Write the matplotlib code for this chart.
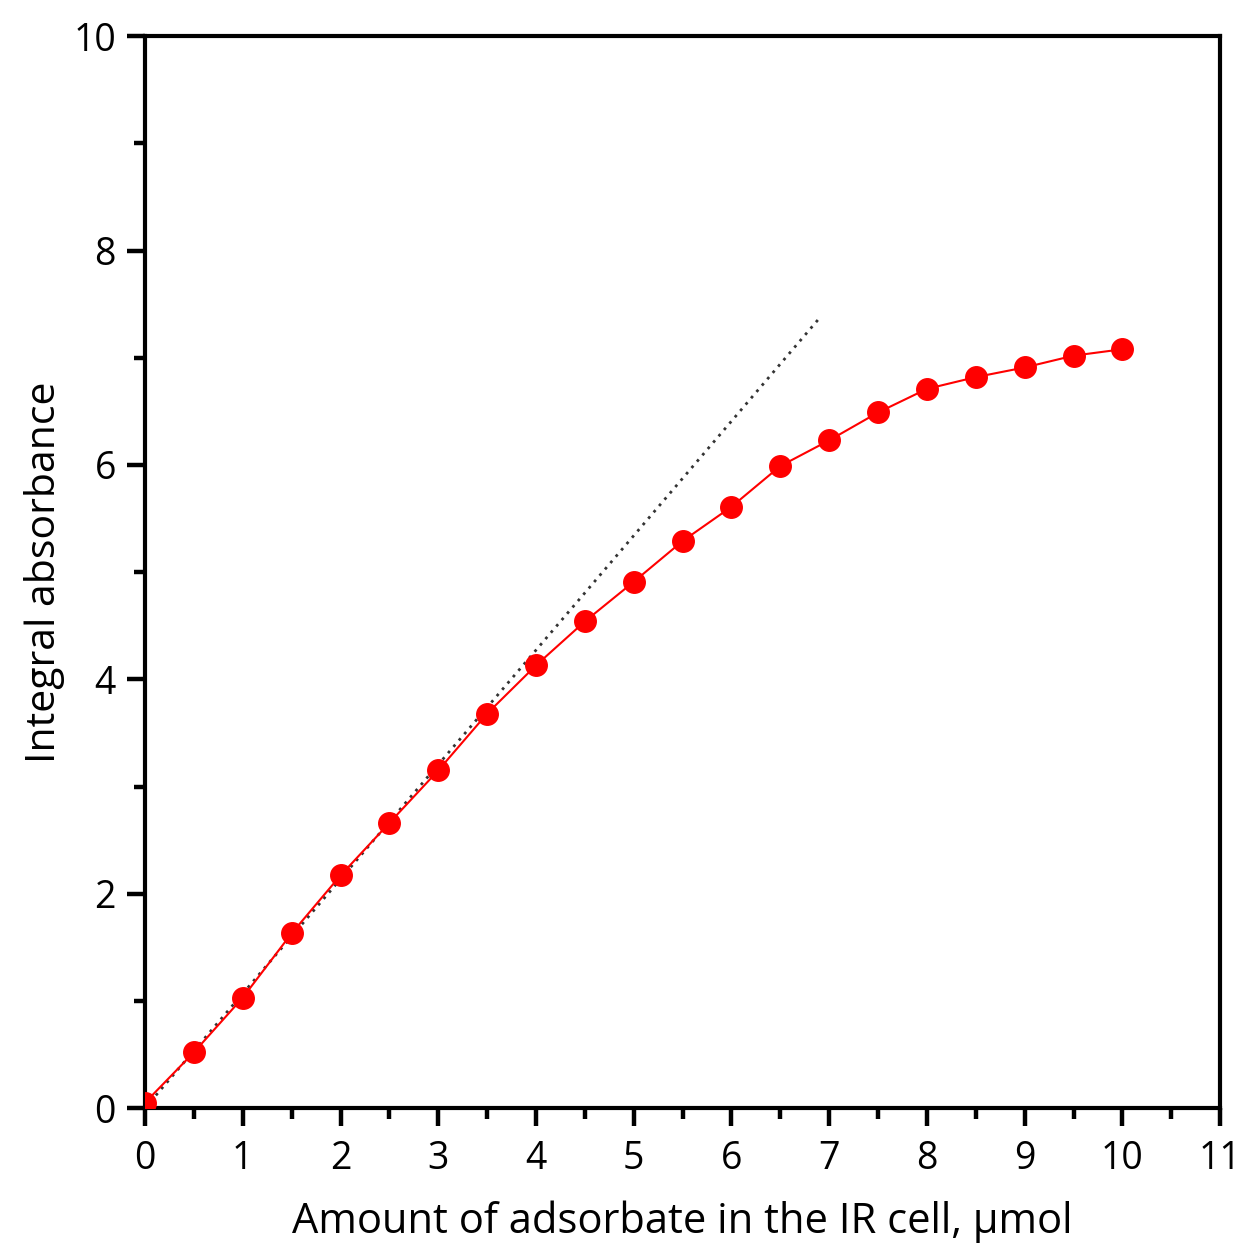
import matplotlib
matplotlib.use("Agg")
import matplotlib.pyplot as plt
from matplotlib.ticker import MultipleLocator

plt.rcParams['font.family'] = ['Open Sans', 'DejaVu Sans']

amount = [0, 0.5, 1, 1.5, 2, 2.5, 3, 3.5, 4, 4.5, 5, 5.5, 6, 6.5, 7, 7.5, 8, 8.5, 9, 9.5, 10]
absorbance = [0.05, 0.52, 1.03, 1.63, 2.17, 2.66, 3.15, 3.68, 4.13, 4.54, 4.91, 5.29,
              5.61, 5.99, 6.23, 6.49, 6.71, 6.82, 6.91, 7.02, 7.08]
linear_x = [0, 6.9]
linear_y = [0, 7.37]

fig = plt.figure(figsize=(12.45, 12.52), dpi=100)
ax = fig.add_axes([0.1165, 0.115, 0.8635, 0.856])

ax.plot(linear_x, linear_y, linestyle=(0, (1, 2)), color='#333333', linewidth=2, zorder=2)
ax.plot(amount, absorbance, color='red', linewidth=1.5, marker='o', markersize=15.5,
        markerfacecolor='red', markeredgecolor='red', zorder=3)

ax.set_xlim(0, 11)
ax.set_ylim(0, 10)
ax.xaxis.set_major_locator(MultipleLocator(1))
ax.xaxis.set_minor_locator(MultipleLocator(0.5))
ax.yaxis.set_major_locator(MultipleLocator(2))
ax.yaxis.set_minor_locator(MultipleLocator(1))

for s in ax.spines.values():
    s.set_linewidth(3)
ax.tick_params(which='major', direction='out', length=13, width=3.2, labelsize=27)
ax.tick_params(axis='x', which='major', pad=10)
ax.tick_params(axis='y', which='major', pad=8)
ax.tick_params(which='minor', direction='out', length=8, width=3.2)
ax.tick_params(top=False, right=False, which='both')

ax.set_xlabel('Amount of adsorbate in the IR cell, µmol', fontsize=30, labelpad=16)
ax.set_ylabel('Integral absorbance', fontsize=29.5, labelpad=6)

fig.savefig('out.png', dpi=100)
